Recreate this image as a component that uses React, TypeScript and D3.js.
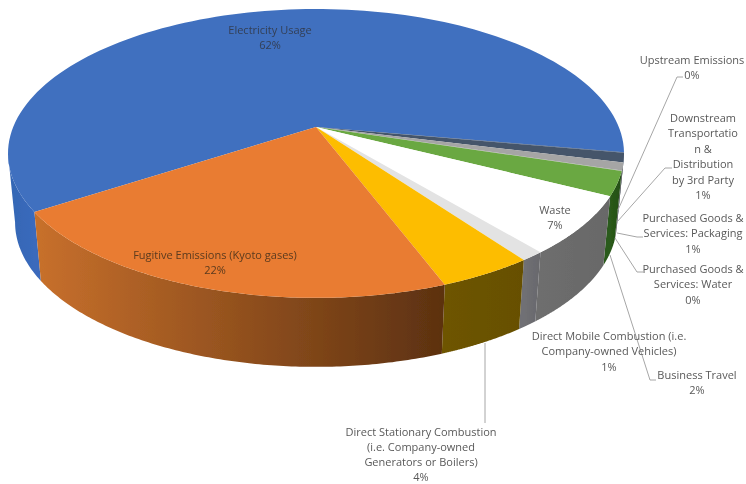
import React from "react";
import * as d3 from "d3";

const names = ["Electricity Usage","Upstream Emissions","Downstream Transportation","Purchased Goods: Packaging","Purchased Goods: Water","Business Travel","Waste","Direct Mobile","Direct Stationary","Fugitive Emissions"];
const values = [62.0, 0.05, 1.05, 0.85, 0.05, 2.7, 6.5, 1.05, 4.2, 21.5];
const topColors = ["#4070bf","#2f4a73","#44546a","#a5a5a5","#a5a5a5","#6aa842","#ffffff","#e3e3e3","#fdbd00","#e97c30"];
const wallFrom = ["#3466b4","#1f3350","#1f3350","#555555","#555555","#2a5a1a","#6e6e6e","#707074","#6e5400","#c8702c"];
const wallTo = ["#3a6abc","#1f3350","#1f3350","#555555","#555555","#234d14","#686868","#68686c","#665000","#5c3110"];
const labelLines = [
  {lines:["Electricity Usage","62%"],x:270,y:34,gap:15.4,color:"#333f55"},
  {lines:["Upstream Emissions","0%"],x:692,y:64,gap:15.4},
  {lines:["Downstream","Transportatio","n &","Distribution","by 3rd Party","1%"],x:703,y:122,gap:15.4},
  {lines:["Purchased Goods &","Services: Packaging","1%"],x:693,y:222,gap:15.4},
  {lines:["Purchased Goods &","Services: Water","0%"],x:693,y:273,gap:15.4},
  {lines:["Business Travel","2%"],x:697,y:379,gap:15.4},
  {lines:["Waste","7%"],x:555,y:214,gap:15.4},
  {lines:["Direct Mobile Combustion (i.e.","Company-owned Vehicles)","1%"],x:609,y:340,gap:15.4},
  {lines:["Direct Stationary Combustion","(i.e. Company-owned","Generators or Boilers)","4%"],x:421,y:436,gap:14.9},
  {lines:["Fugitive Emissions (Kyoto gases)","22%"],x:215,y:259,gap:15.4,color:"#5a3a20"},
];
const leaders: [number,number][][] = [
  [[618,210],[677,77],[683,77]],
  [[617,222],[665,168],[672,168]],
  [[617,233],[637,237],[643,237]],
  [[615,238],[637,272],[643,272]],
  [[610,255],[650,380],[656,380]],
  [[485,343],[485,423]],
];

const W=746,H=484;
const ax=316, ay=127, R=302.8, S=139.6, p=0.183;
const rimTop=(t:number):[number,number]=>{
  const u=Math.cos(t), v=Math.sin(t), w=1-p*v;
  return [ax+R*u/w, ay+S*v/w];
};
const rimBottom=(t:number):[number,number]=>{
  const [x,y]=rimTop(t);
  return [ax+(x-ax)*0.977, y+69];
};
const startAngle=((10-223.2)*Math.PI)/180;
const pie=d3.pie<number>().sort(null).startAngle(startAngle).endAngle(startAngle+2*Math.PI);
const arcs=pie(values);
const line=d3.line();
const sample=(a:number,b:number,f:(t:number)=>[number,number])=>
  d3.range(0,121).map(i=>f(a+(b-a)*i/120));
// the part of a slice's rim that faces the viewer (between the two silhouette tangents)
const tangent=Math.asin(p);
const visibleSpan=(a:number,b:number):[number,number]|null=>{
  for(const shift of [0,-2*Math.PI]){
    const lo=Math.max(a,tangent+shift), hi=Math.min(b,Math.PI-tangent+shift);
    if(hi>lo) return [lo,hi];
  }
  return null;
};

export default function App(){
  return (
    <svg width={W} height={H} viewBox={`0 0 ${W} ${H}`} style={{position:"absolute",left:0,top:0,background:"#fff"}}>
      <defs>
        <filter id="soft" x="-5%" y="-5%" width="110%" height="110%"><feGaussianBlur stdDeviation="0.45"/></filter>
        {arcs.map((a,i)=>{
          const span=visibleSpan(a.startAngle,a.endAngle);
          if(!span) return null;
          const xs=sample(span[0],span[1],rimTop).map(d=>d[0]);
          return (
            <linearGradient key={i} id={`w${i}`} gradientUnits="userSpaceOnUse" x1={d3.min(xs)} x2={d3.max(xs)} y1={0} y2={0}>
              <stop offset="0%" stopColor={wallFrom[i]}/>
              <stop offset="100%" stopColor={wallTo[i]}/>
            </linearGradient>
          );
        })}
      </defs>
      <g filter="url(#soft)">
        {arcs.map((a,i)=>{
          const span=visibleSpan(a.startAngle,a.endAngle);
          if(!span) return null;
          const pts=[...sample(span[0],span[1],rimTop),...sample(span[0],span[1],rimBottom).reverse()];
          return <path key={`w${i}`} d={line(pts)+"Z"} fill={`url(#w${i})`}/>;
        })}
        {arcs.map((a,i)=>{
          const pts:[number,number][]=[[ax,ay],...sample(a.startAngle,a.endAngle,rimTop)];
          return <path key={`t${i}`} d={line(pts)+"Z"} fill={topColors[i]}/>;
        })}
        {leaders.map((l,i)=><path key={i} d={line(l)!} fill="none" stroke="#a6a6a6" strokeWidth={1}/>)}
        {labelLines.map((l,i)=>(
          <text key={i} textAnchor="middle" fontFamily="'Open Sans'" fontSize={11} fill={l.color||"#595959"}>
            {l.lines.map((s,j)=><tspan key={j} x={l.x} y={l.y+j*l.gap}>{s}</tspan>)}
          </text>
        ))}
      </g>
    </svg>
  );
}
